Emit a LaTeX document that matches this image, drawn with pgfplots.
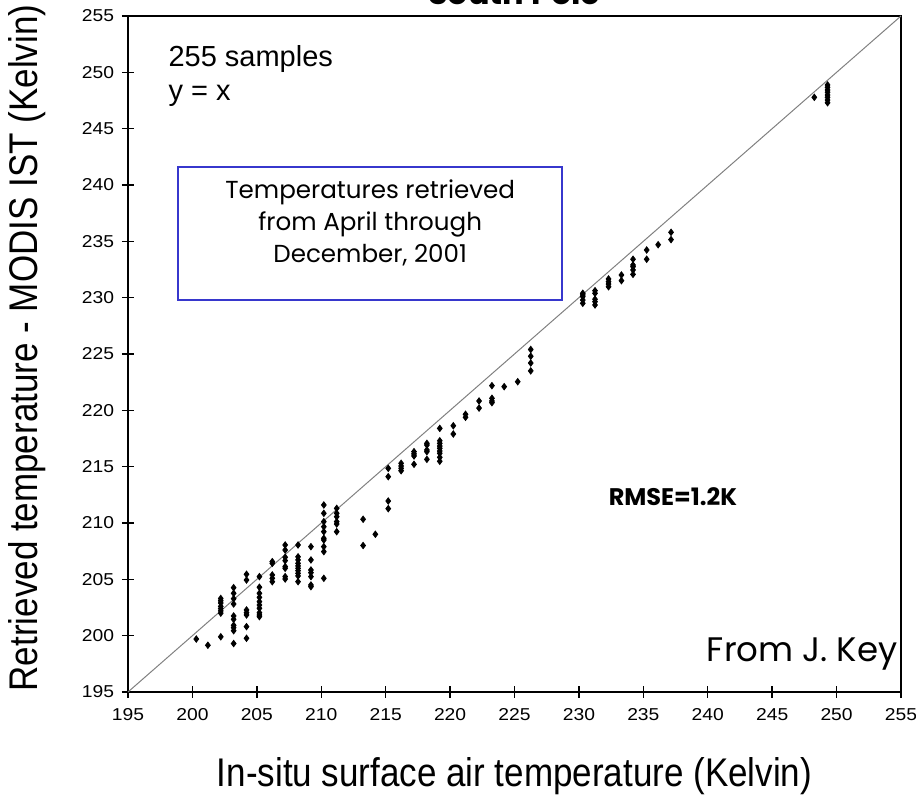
\documentclass[border=0pt]{standalone}
\usepackage{pgfplots}
\pgfplotsset{compat=1.18}
\usepackage{fontspec}
\setmainfont{Liberation Sans}
\newfontfamily\comic{Poppins}
\definecolor{boxblue}{RGB}{55,55,205}
\begin{document}
\begin{tikzpicture}
\begin{axis}[
  scale only axis,
  width=386.5pt, height=338pt,
  xmin=195, xmax=255, ymin=195, ymax=255,
  xtick={195,200,...,255}, ytick={195,200,...,255},
  tick align=center,
  major tick length=6pt,
  xtick pos=bottom, ytick pos=left,
  axis line style={line width=0.8pt},
  tick style={line width=0.7pt, black},
  /pgf/number format/assume math mode=true,
  /pgf/number format/1000 sep={},
  ticklabel style={font=\fontsize{8.6}{10}\selectfont, xscale=1.12},
  xticklabel style={yshift=-1.5pt},
  clip=false,
]
\addplot[gray, line width=0.5pt, forget plot] coordinates {(195,195) (255,255)};
\addplot[only marks, mark=diamond*, mark size=1.6pt, black] coordinates {
(200.3,199.7)
(201.2,199.15)
(202.2,199.9) (202.2,203.3)(202.2,203.1)(202.2,202.9)(202.2,202.6)(202.2,202.4)(202.2,202.2)(202.2,202.0)
(203.2,204.26)(203.2,203.76)(203.2,203.28)(203.2,202.81)(203.2,201.75)(203.2,201.45)(203.2,200.92)(203.2,200.71)(203.2,200.44)(203.2,199.3)
(204.2,205.45)(204.2,204.94)(204.2,202.28)(204.2,202.04)(204.2,201.84)(204.2,200.8)(204.2,199.77)
(205.2,205.24)(205.2,204.3)(205.2,203.76)(205.2,203.4)(205.2,203.02)(205.2,202.72)(205.2,202.43)(205.2,202.04)(205.2,201.84)(205.2,201.69)
(206.2,206.57)(206.2,206.42)(206.2,205.39)(206.2,205.09)(206.2,204.79)
(207.2,208.05)(207.2,207.6)(207.2,206.96)(207.2,206.66)(207.2,206.13)(207.2,205.98)(207.2,205.24)(207.2,205.03)
(208.2,208.05)(208.2,207.0)(208.2,206.72)(208.2,206.42)(208.2,206.19)(208.2,205.98)(208.2,205.77)(208.2,205.53)(208.2,205.3)(208.2,204.79)
(209.2,207.9)(209.2,206.72)(209.2,205.83)(209.2,205.59)(209.2,205.24)(209.2,204.5)(209.2,204.35)
(210.2,211.6)(210.2,210.86)(210.2,210.12)(210.2,209.67)(210.2,209.23)(210.2,208.64)(210.2,208.49)(210.2,207.9)(210.2,207.46)(210.2,205.09)
(211.2,211.3)(211.2,210.86)(211.2,210.56)(211.2,210.12)(211.2,209.91)(211.2,209.23)
(213.25,210.33)(213.25,208.0)
(214.2,209.0)
(215.2,214.85)(215.2,214.11)(215.2,211.95)(215.2,211.27)
(216.2,215.3)(216.2,215.06)(216.2,214.85)(216.2,214.64)
(217.2,216.33)(217.2,216.13)(217.2,215.95)(217.2,215.21)
(218.2,217.07)(218.2,216.92)(218.2,216.48)(218.2,216.33)(218.2,215.65)
(219.2,218.4)(219.2,217.3)(219.2,217.07)(219.2,216.83)(219.2,216.63)(219.2,216.39)(219.2,216.19)(219.2,215.83)(219.2,215.48)
(220.25,218.63)(220.25,217.9)
(221.2,219.65)(221.2,219.38)
(222.25,220.83)(222.25,220.2)
(223.25,222.19)(223.25,221.07)(223.25,220.83)(223.25,220.68)
(224.2,222.1)
(225.25,222.54)
(226.26,225.4)(226.26,224.8)(226.26,224.2)(226.26,223.5)
(230.3,230.39)(230.3,230.24)(230.3,230.09)(230.3,229.79)(230.3,229.5)
(231.25,230.62)(231.25,230.39)(231.25,229.86)(231.25,229.64)(231.25,229.35)
(232.3,231.66)(232.3,231.42)(232.3,231.21)(232.3,230.97)
(233.3,232.01)(233.3,231.51)
(234.2,233.41)(234.2,232.9)(234.2,232.75)(234.2,232.46)(234.2,232.07)
(235.26,234.23)(235.26,233.41)
(236.15,234.7)
(237.15,235.8)(237.15,235.15)
(248.27,247.78)
(249.3,248.88)(249.3,248.67)(249.3,248.43)(249.3,248.23)(249.3,247.99)(249.3,247.78)(249.3,247.54)(249.3,247.3)
};
\draw[boxblue, line width=1pt] (axis cs:198.9,241.6) rectangle (axis cs:228.7,229.8);
\node[font=\comic\fontsize{12.3}{16}\selectfont, align=center] at (axis cs:213.8,236.6)
  {Temperatures retrieved\\from April through\\December, 2001};
\node[anchor=base west, font=\fontsize{14.5}{17}\selectfont] at (axis cs:197.6,250.56) {255 samples};
\node[anchor=base west, font=\fontsize{14.5}{17}\selectfont] at (axis cs:197.6,247.54) {y = x};
\node[font=\comic\bfseries\fontsize{12}{14}\selectfont] at (axis cs:237.3,212.3) {RMSE=1.2K};
\node[anchor=base east, inner sep=0pt, font=\comic\fontsize{17}{20}\selectfont] at (axis cs:254.75,197.69) {From J. Key};
\end{axis}
\node[anchor=base, font=\comic\bfseries\fontsize{16}{18}\selectfont] at (193.25pt,343.5pt) {South Pole};
\node[anchor=base, font=\fontsize{20}{24}\selectfont, xscale=0.875] at (193.25pt,-47.5pt) {In-situ surface air temperature (Kelvin)};
\node[anchor=base, rotate=90, font=\fontsize{20}{24}\selectfont, xscale=0.875] at (-45pt,172pt) {Retrieved temperature - MODIS IST (Kelvin)};
\pgfresetboundingbox
\path[use as bounding box] (-64pt,-52.5pt) rectangle (394pt,346pt);
\end{tikzpicture}
\end{document}
